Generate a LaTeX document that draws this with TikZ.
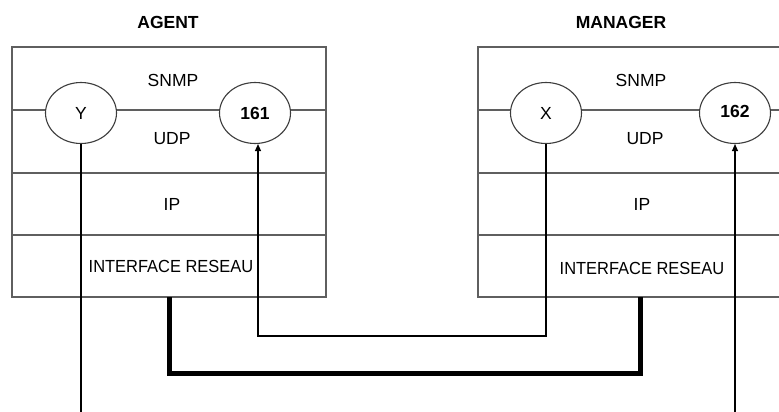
\documentclass[tikz,border=0pt]{standalone}
\usepackage{fontspec}
\setmainfont{Liberation Sans}
\usetikzlibrary{arrows.meta, positioning, calc, shapes.geometric}
\definecolor{framegray}{RGB}{95,95,95}
\definecolor{portgray}{RGB}{60,60,60}

\begin{document}
\begin{tikzpicture}[x=1pt, y=-1pt, >={Triangle[length=7pt, width=6pt]}, line join=miter]
    % Styles
    \tikzset{
        layerbox/.style={line width=1.3pt, framegray},
        port/.style={draw=portgray, line width=1.1pt, ellipse, fill=white, minimum width=71pt, minimum height=61pt, inner sep=0pt, font=\fontsize{17.5}{19}\selectfont},
        layertext/.style={font=\fontsize{17.5}{19}\selectfont},
        title/.style={font=\fontsize{17.5}{19}\selectfont\bfseries},
        flow/.style={line width=1.2pt, black},
        wire/.style={line width=5pt, black}
    }

    % Picture frame (pixel grid of the reference, y pointing down)
    \useasboundingbox (0,0) rectangle (779,412);
    \clip (0,0) rectangle (779,412);

    % --- Agent stack ---
    \draw[layerbox] (12,47) rectangle (326,297);
    \draw[layerbox] (12,110) -- (326,110);
    \draw[layerbox] (12,173) -- (326,173);
    \draw[layerbox] (12,235) -- (326,235);

    \node[title] (agent) at (168,22) {AGENT};
    \node[layertext] (A_snmp) at (173,80) {SNMP};
    \node[layertext] (A_udp) at (172,139) {UDP};
    \node[layertext] (A_ip) at (172,204) {IP};
    \node[layertext] (A_if) at (171,266) {\scalebox{0.94}[1]{INTERFACE RESEAU}};

    \node[port] (Y) at (81,113) {Y};
    \node[port, font=\fontsize{17.5}{19}\selectfont\bfseries] (P161) at (255,113) {161};

    % --- Manager stack ---
    \draw[layerbox] (478,47) rectangle (806,297);
    \draw[layerbox] (478,110) -- (806,110);
    \draw[layerbox] (478,173) -- (806,173);
    \draw[layerbox] (478,235) -- (806,235);

    \node[title] (manager) at (621,22) {MANAGER};
    \node[layertext] (M_snmp) at (641,80) {SNMP};
    \node[layertext] (M_udp) at (645,139) {UDP};
    \node[layertext] (M_ip) at (642,204) {IP};
    \node[layertext] (M_if) at (642,268) {\scalebox{0.94}[1]{INTERFACE RESEAU}};

    \node[port] (X) at (546,113) {X};
    \node[port, font=\fontsize{17.5}{19}\selectfont\bfseries] (P162) at (735,113) {\raisebox{3pt}{162}};

    % --- Physical link between the two interfaces ---
    \coordinate (A_out) at (169,297);
    \coordinate (M_out) at (640,297);
    \draw[wire] (A_out) -- ++(0,76) -| (M_out);

    % --- Request X -> 161 ---
    \coordinate (ret) at (258,336);
    \draw[flow, ->] (X.south) |- (ret) -- (ret |- P161.south);

    % --- Y goes out, trap comes in to 162 ---
    \coordinate (Y_end) at (81,412);
    \draw[flow] (Y.south) -- (Y_end);
    \coordinate (P162_in) at (735,412);
    \draw[flow, ->] (P162_in) -- (P162.south);

\end{tikzpicture}
\end{document}
